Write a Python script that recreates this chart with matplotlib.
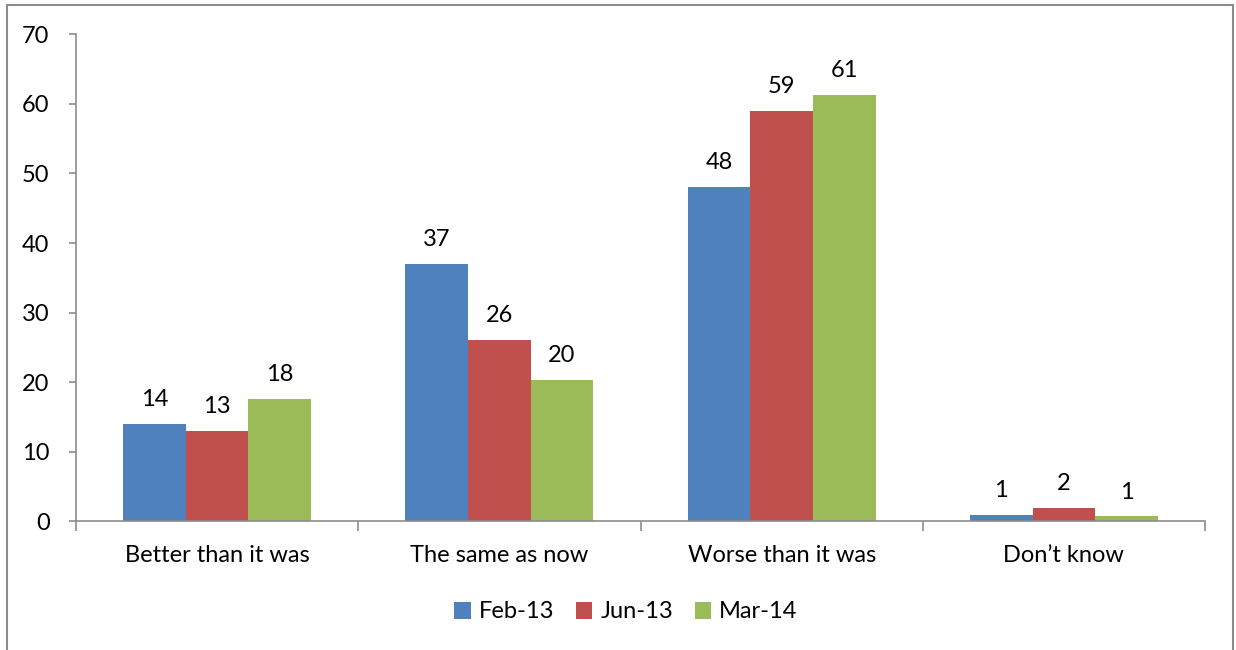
import matplotlib
matplotlib.use("Agg")
import matplotlib.pyplot as plt
import numpy as np
from matplotlib.patches import Rectangle

categories = ["Better than it was", "The same as now", "Worse than it was", "Don\u2019t know"]
series_names = ["Feb-13", "Jun-13", "Mar-14"]
feb13 = [14.0, 37.0, 48.0, 0.95]
jun13 = [13.0, 26.0, 59.0, 1.9]
mar14 = [17.6, 20.3, 61.3, 0.7]
labels_feb13 = ["14", "37", "48", "1"]
labels_jun13 = ["13", "26", "59", "2"]
labels_mar14 = ["18", "20", "61", "1"]
yticks = [0, 10, 20, 30, 40, 50, 60, 70]

colors = ["#4F81BD", "#C0504D", "#9BBB59"]
plt.rcParams['font.family'] = ['Lato', 'DejaVu Sans']
FS = 17

fig = plt.figure(figsize=(12.36, 6.5), dpi=100)
ax = fig.add_axes([76/1236, 1-521.3/650, (1205-76)/1236, (521.3-34.3)/650])

# outer border
fig.patches.append(Rectangle((7/1236, -0.01), (1233-7)/1236, (650-5)/650 + 0.01,
                             transform=fig.transFigure, fill=False, edgecolor="#8c8c8c", linewidth=1.5))

x = np.arange(len(categories))
bw = 0.222
all_vals = [feb13, jun13, mar14]
all_labels = [labels_feb13, labels_jun13, labels_mar14]
for i, (vals, labs, c, name) in enumerate(zip(all_vals, all_labels, colors, series_names)):
    pos = x + (i - 1) * bw
    ax.bar(pos, vals, width=bw, color=c, label=name, zorder=2)
    for p, v, l in zip(pos, vals, labs):
        ax.text(p, v + 2.0, l, ha="center", va="bottom", fontsize=FS, color="#000000")

ax.set_xlim(-0.5, len(categories) - 0.5)
ax.set_ylim(0, 70)
ax.set_yticks(yticks)
ax.set_yticklabels([str(t) for t in yticks], fontsize=FS)
ax.set_xticks(x)
ax.set_xticklabels(categories, fontsize=FS)
ax.tick_params(axis="x", length=0, pad=17)
ax.tick_params(axis="y", length=5, width=1.2, color="#8c8c8c", pad=14)
ax.set_xticks(np.arange(len(categories) + 1) - 0.5, minor=True)
ax.tick_params(axis="x", which="minor", length=7, width=1.2, color="#8c8c8c", direction="out")
for s in ["top", "right"]:
    ax.spines[s].set_visible(False)
for s in ["left", "bottom"]:
    ax.spines[s].set_color("#8c8c8c")
    ax.spines[s].set_linewidth(1.2)

fig.legend(loc="center", bbox_to_anchor=(626/1236, 1-612/650), ncol=3, frameon=False,
           fontsize=FS, handlelength=0.7, handleheight=0.7, handletextpad=0.35,
           columnspacing=0.9)

fig.savefig("out.png", dpi=100)
